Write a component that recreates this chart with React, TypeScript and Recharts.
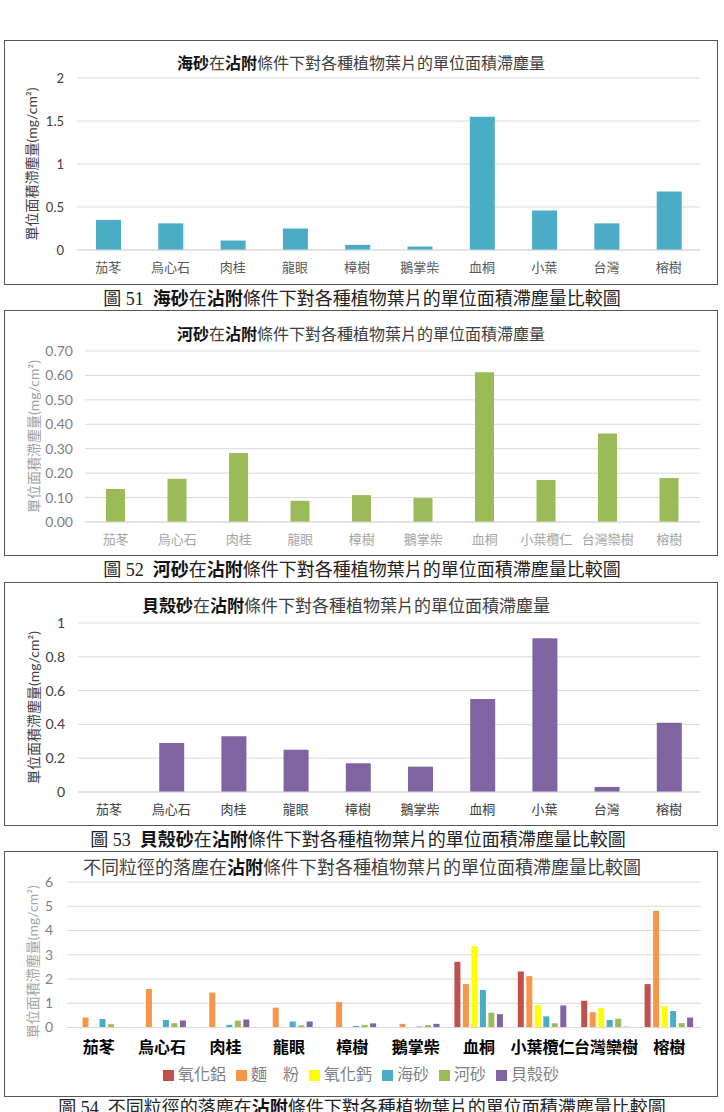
import { Bar, BarChart, CartesianGrid, Legend, XAxis, YAxis } from "recharts";

// plant categories (short and long label variants)
const plants = ["茄苳", "烏心石", "肉桂", "龍眼", "樟樹", "鵝掌柴", "血桐", "小葉", "台灣", "榕樹"];
const plantsFull = ["茄苳", "烏心石", "肉桂", "龍眼", "樟樹", "鵝掌柴", "血桐", "小葉欖仁", "台灣欒樹", "榕樹"];

// dust retained per unit leaf area (mg/cm²), adhesion condition
const seaSand = [0.35, 0.31, 0.11, 0.25, 0.06, 0.04, 1.55, 0.46, 0.31, 0.68];
const riverSand = [0.135, 0.177, 0.282, 0.087, 0.11, 0.098, 0.613, 0.172, 0.362, 0.18];
const shellSand = [0, 0.29, 0.33, 0.25, 0.17, 0.15, 0.55, 0.91, 0.03, 0.41];
const alumina = [0, 0, 0, 0, 0, 0, 2.71, 2.31, 1.1, 1.79];
const flour = [0.41, 1.59, 1.44, 0.82, 1.05, 0.15, 1.79, 2.12, 0.63, 4.81];
const lime = [0, 0, 0, 0, 0, 0, 3.36, 0.92, 0.81, 0.88];

const seriesNames = ["氧化鋁", "麵　粉", "氧化鈣", "海砂", "河砂", "貝殼砂"];
const seriesColors = ["#C0504D", "#F79646", "#FFFF00", "#4BACC6", "#9BBB59", "#8064A2"];

const ticks1 = [0, 0.5, 1, 1.5, 2];
const ticks2 = [0, 0.1, 0.2, 0.3, 0.4, 0.5, 0.6, 0.7];
const ticks3 = [0, 0.2, 0.4, 0.6, 0.8, 1];
const ticks4 = [0, 1, 2, 3, 4, 5, 6];

const UNIT_TITLE = "單位面積滯塵量(mg/cm²)";
const FONT = 'Lato, "Noto Sans CJK TC", sans-serif';
const SERIF = '"Liberation Serif", "Noto Sans CJK TC", serif';

const toRows = (labels: string[], values: number[]) => labels.map((name, i) => ({ name, v: values[i] }));

const comboRows = plantsFull.map((name, i) => ({
  name,
  s0: alumina[i],
  s1: flour[i],
  s2: lime[i],
  s3: seaSand[i],
  s4: riverSand[i],
  s5: shellSand[i],
}));

function yTitle(x: number, color: string, size: number, shift = 0) {
  return (props: any) => {
    const vb = props.viewBox || { y: 0, height: 0 };
    const cy = vb.y + vb.height / 2 + shift;
    return (
      <text
        x={x}
        y={cy}
        transform={`rotate(-90 ${x} ${cy})`}
        textAnchor="middle"
        dominantBaseline="central"
        fill={color}
        fontSize={size}
      >
        {UNIT_TITLE}
      </text>
    );
  };
}

function Frame({ top, height }: { top: number; height: number }) {
  return (
    <div
      style={{
        position: "absolute",
        left: 4,
        top,
        width: 714,
        height,
        border: "1.5px solid #555",
        boxSizing: "border-box",
      }}
    />
  );
}

function Heading({
  cy,
  cx,
  size,
  parts,
  color = "#404040",
  family = FONT,
}: {
  cy: number;
  cx: number;
  size: number;
  parts: [string, boolean][];
  color?: string;
  family?: string;
}) {
  return (
    <div
      style={{
        position: "absolute",
        left: cx - 362,
        top: cy - 14,
        width: 724,
        height: 28,
        lineHeight: "28px",
        textAlign: "center",
        fontSize: size,
        fontFamily: family,
        color,
        whiteSpace: "pre",
      }}
    >
      {parts.map(([t, b], i) => (
        <span key={i} style={b ? { fontWeight: "bold", color: "#111", fontFamily: FONT } : undefined}>
          {t}
        </span>
      ))}
    </div>
  );
}

interface SingleProps {
  top: number;
  height: number;
  data: { name: string; v: number }[];
  color: string;
  ticks: number[];
  fmt: (v: number) => string;
  plotLeft: number;
  plotTop: number;
  plotBottom: number;
  barSize: number;
  tickColor: string;
  tickSize: number;
  catColor: string;
  labelColor: string;
  labelX: number;
  tickGap: number;
}

function SingleChart(p: SingleProps) {
  const below = p.height - p.plotBottom;
  return (
    <div style={{ position: "absolute", left: 0, top: p.top }}>
      <BarChart
        width={724}
        height={p.height}
        data={p.data}
        margin={{ top: p.plotTop, right: 24, bottom: below - 30, left: 0 }}
      >
        <CartesianGrid vertical={false} stroke="#d9d9d9" />
        <XAxis
          dataKey="name"
          height={30}
          interval={0}
          tickLine={false}
          tickSize={0}
          tickMargin={13}
          axisLine={{ stroke: "#d9d9d9" }}
          tick={{ fill: p.catColor, fontSize: 13 }}
        />
        <YAxis
          width={p.plotLeft}
          domain={[p.ticks[0], p.ticks[p.ticks.length - 1]]}
          ticks={p.ticks}
          tickFormatter={p.fmt}
          axisLine={false}
          tickLine={false}
          tickSize={0}
          tickMargin={p.tickGap}
          tick={{ fill: p.tickColor, fontSize: p.tickSize }}
          label={{ content: yTitle(p.labelX, p.labelColor, 14) }}
        />
        <Bar dataKey="v" fill={p.color} barSize={p.barSize} isAnimationActive={false} />
      </BarChart>
    </div>
  );
}

export default function App() {
  return (
    <div
      style={{
        position: "absolute",
        left: 0,
        top: 0,
        width: 724,
        height: 1112,
        overflow: "hidden",
        background: "#fff",
        fontFamily: FONT,
      }}
    >
      {/* sea sand */}
      <Frame top={40} height={245} />
      <SingleChart
        top={40}
        height={245}
        data={toRows(plants, seaSand)}
        color="#4BACC6"
        ticks={ticks1}
        fmt={v => String(v)}
        plotLeft={77}
        plotTop={38}
        plotBottom={210}
        barSize={25}
        tickColor="#404040"
        tickSize={13}
        catColor="#595959"
        labelColor="#404040"
        labelX={31}
        tickGap={13}
      />
      <Heading cy={63} cx={361} size={16} parts={[["海砂", true], ["在", false], ["沾附", true], ["條件下對各種植物葉片的單位面積滯塵量", false]]} />
      <Heading
        cy={298}
        cx={362}
        size={18}
        color="#222"
        family={SERIF}
        parts={[["圖 51  ", false], ["海砂", true], ["在", false], ["沾附", true], ["條件下對各種植物葉片的單位面積滯塵量比較圖", false]]}
      />

      {/* river sand */}
      <Frame top={310} height={246} />
      <SingleChart
        top={310}
        height={246}
        data={toRows(plantsFull, riverSand)}
        color="#9BBB59"
        ticks={ticks2}
        fmt={v => v.toFixed(2)}
        plotLeft={85}
        plotTop={41}
        plotBottom={212}
        barSize={19}
        tickColor="#7f7f7f"
        tickSize={14}
        catColor="#a6a6a6"
        labelColor="#a0a0a0"
        labelX={33}
        tickGap={12}
      />
      <Heading cy={334} cx={361} size={16} parts={[["河砂", true], ["在", false], ["沾附", true], ["條件下對各種植物葉片的單位面積滯塵量", false]]} />
      <Heading
        cy={569}
        cx={362}
        size={18}
        color="#222"
        family={SERIF}
        parts={[["圖 52  ", false], ["河砂", true], ["在", false], ["沾附", true], ["條件下對各種植物葉片的單位面積滯塵量比較圖", false]]}
      />

      {/* shell sand */}
      <Frame top={582} height={244} />
      <SingleChart
        top={582}
        height={244}
        data={toRows(plants, shellSand)}
        color="#8064A2"
        ticks={ticks3}
        fmt={v => String(v)}
        plotLeft={78}
        plotTop={41}
        plotBottom={210}
        barSize={25}
        tickColor="#404040"
        tickSize={14}
        catColor="#404040"
        labelColor="#404040"
        labelX={33}
        tickGap={13}
      />
      <Heading cy={606} cx={346} size={17} parts={[["貝殼砂", true], ["在", false], ["沾附", true], ["條件下對各種植物葉片的單位面積滯塵量", false]]} />
      <Heading
        cy={839}
        cx={358}
        size={18}
        color="#222"
        family={SERIF}
        parts={[["圖 53  ", false], ["貝殼砂", true], ["在", false], ["沾附", true], ["條件下對各種植物葉片的單位面積滯塵量比較圖", false]]}
      />

      {/* all particle types */}
      <Frame top={851} height={246} />
      <div style={{ position: "absolute", left: 0, top: 851 }}>
        <BarChart
          width={724}
          height={246}
          data={comboRows}
          margin={{ top: 31, right: 23, bottom: 11, left: 0 }}
          barGap={2.5}
        >
          <CartesianGrid vertical={false} stroke="#d9d9d9" />
          <XAxis
            dataKey="name"
            height={34.5}
            interval={0}
            tickLine={false}
            tickSize={0}
            tickMargin={14}
            axisLine={{ stroke: "#d9d9d9" }}
            tick={{ fill: "#000", fontSize: 16, fontWeight: "bold" }}
          />
          <YAxis
            width={67}
            domain={[0, 6]}
            ticks={ticks4}
            axisLine={false}
            tickLine={false}
            tickSize={0}
            tickMargin={14}
            tick={{ fill: "#7f7f7f", fontSize: 14 }}
            label={{ content: yTitle(32, "#a6a6a6", 14, 7) }}
          />
          <Legend
            verticalAlign="bottom"
            align="center"
            height={24}
            width={724}
            iconType="square"
            iconSize={11}
            itemSorter="dataKey"
            wrapperStyle={{ left: 4, fontSize: 16, lineHeight: "24px" }}
            formatter={v => <span style={{ color: "#7f7f7f" }}>{v}</span>}
          />
          {seriesNames.map((n, i) => (
            <Bar key={n} dataKey={`s${i}`} name={n} fill={seriesColors[i]} barSize={6} isAnimationActive={false} />
          ))}
        </BarChart>
      </div>
      <Heading
        cy={867}
        cx={362}
        size={18}
        parts={[["不同粒徑的落塵在", false], ["沾附", true], ["條件下對各種植物葉片的單位面積滯塵量比較圖", false]]}
      />
      <Heading
        cy={1107}
        cx={362}
        size={18}
        color="#222"
        family={SERIF}
        parts={[["圖 54  不同粒徑的落塵在", false], ["沾附", true], ["條件下對各種植物葉片的單位面積滯塵量比較圖", false]]}
      />
    </div>
  );
}
